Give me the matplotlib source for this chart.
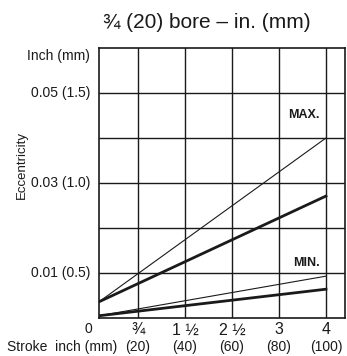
import matplotlib
matplotlib.use("Agg")
import matplotlib.pyplot as plt

# ---- data ----
stroke_mm = [3.4, 100]                 # line start (axis edge) and end (4 in / 100 mm)
max_thin = [0.0036, 0.0400]            # MAX. thin line (inch)
max_thick = [0.0036, 0.0271]           # MAX. thick line (inch)
min_thin = [0.0005, 0.0093]            # MIN. thin line (inch)
min_thick = [0.0005, 0.0064]           # MIN. thick line (inch)

x_ticks = [20, 40, 60, 80, 100]
x_top_labels = ["¾", "1 ½", "2 ½", "3", "4"]
x_bot_labels = ["(20)", "(40)", "(60)", "(80)", "(100)"]
y_grid = [0.01, 0.02, 0.03, 0.04, 0.05]
y_labels = {0.05: "0.05 (1.5)", 0.03: "0.03 (1.0)", 0.01: "0.01 (0.5)"}

FAM = ["Liberation Sans Narrow", "Liberation Sans", "DejaVu Sans"]
plt.rcParams["font.family"] = FAM
INK = "#1a1a1a"

fig = plt.figure(figsize=(3.47, 3.56), dpi=100)
ax = fig.add_axes([99/347, 1-318/356, 246/347, 270/356])
ax.set_xlim(3.4, 108.1)
ax.set_ylim(0, 0.06)

for x in x_ticks:
    ax.axvline(x, color=INK, lw=1.0, zorder=1)
for y in y_grid:
    ax.axhline(y, color=INK, lw=1.0, zorder=1)
for s in ax.spines.values():
    s.set_color(INK)
    s.set_linewidth(1.2)

ax.plot(stroke_mm, max_thin, color=INK, lw=0.8, zorder=3)
ax.plot(stroke_mm, max_thick, color=INK, lw=2.0, zorder=3)
ax.plot(stroke_mm, min_thin, color=INK, lw=0.8, zorder=3)
ax.plot(stroke_mm, min_thick, color=INK, lw=2.0, zorder=3)

ax.set_xticks([])
ax.set_yticks([])

fs = 10
# y labels
for y, t in y_labels.items():
    ax.text(-0.035, y, t, transform=ax.get_yaxis_transform(), ha="right", va="center",
            fontsize=fs, color=INK)
fig.text(90/347, 1-56/356, "Inch (mm)", ha="right", va="center", fontsize=fs, color=INK)
fig.text(22/347, 1-165/356, "Eccentricity", rotation=90, ha="center", va="center",
         fontsize=fs - 0.5, color=INK)

# x labels
for x, t1, t2 in zip(x_ticks, x_top_labels, x_bot_labels):
    ax.text(x, -0.044, t1, transform=ax.get_xaxis_transform(), ha="center", va="center",
            fontsize=fs + 1.5, color=INK)
    ax.text(x, -0.107, t2, transform=ax.get_xaxis_transform(), ha="center", va="center",
            fontsize=fs, color=INK)
fig.text(88/347, 1-329/356, "0", ha="center", va="center", fontsize=fs, color=INK)
fig.text(7/347, 1-347/356, "Stroke  inch (mm)", ha="left", va="center", fontsize=fs, color=INK)

# annotations
ax.text(97.4, 0.0451, "MAX.", ha="right", va="center", fontsize=9, fontweight="bold", color=INK)
ax.text(97.4, 0.0122, "MIN.", ha="right", va="center", fontsize=9, fontweight="bold", color=INK)

fig.text(207/347, 1-22/356, "¾ (20) bore – in. (mm)", ha="center", va="center",
         fontsize=15, color=INK, family=["Liberation Sans", "DejaVu Sans"])

fig.savefig("out.png", dpi=100, facecolor="white")
